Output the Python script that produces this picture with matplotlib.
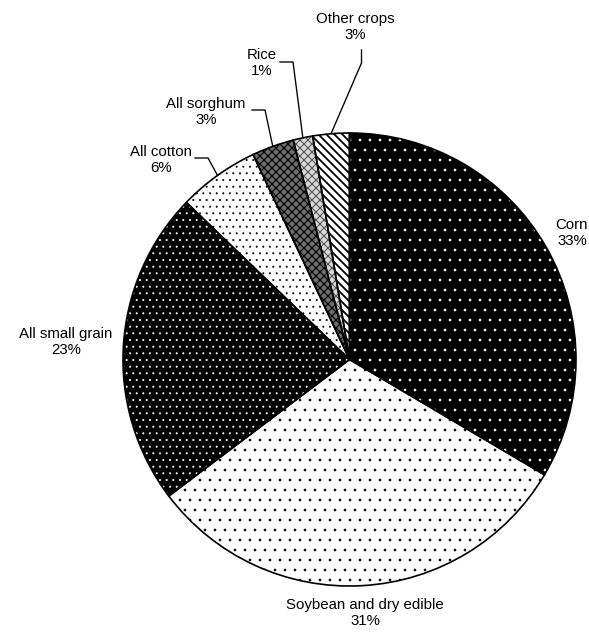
import numpy as np
import matplotlib
matplotlib.use("Agg")
import matplotlib.pyplot as plt

W, H, DPI = 589, 632, 120

crops = ["Corn", "Soybean and dry edible", "All small grain", "All cotton",
         "All sorghum", "Rice", "Other crops"]
shares = [33.5, 31.2, 22.5, 5.8, 3.0, 1.4, 2.6]
pct_labels = ["33%", "31%", "23%", "6%", "3%", "1%", "3%"]

# face colour, hatch colour, hatch pattern, hatch linewidth
styles = [
    ("black", "white", "..", 0.4),
    ("white", "black", "..", 0.4),
    ("black", "white", "...", 0.4),
    ("white", "black", "...", 0.4),
    ("#6e6e6e", "black", "xxxxx", 0.7),
    ("#d8d8d8", "#505050", "xxxxx", 0.6),
    ("white", "black", "\\\\\\\\\\", 1.1),
]

plt.rcParams["font.family"] = ["Liberation Sans", "DejaVu Sans"]
plt.rcParams["font.size"] = 9

fig = plt.figure(figsize=(W / DPI, H / DPI), dpi=DPI)
ax = fig.add_axes([0, 0, 1, 1])

cx, cy, r = 349.5, 359.5, 226.5

# y axis is flipped (pixel coords), so counterclock=True draws clockwise on screen
wedges, _ = ax.pie(shares, startangle=-90, counterclock=True, center=(cx, cy),
                   radius=r, frame=True)
for w, (fc, hc, hatch, hlw) in zip(wedges, styles):
    w.set_facecolor(fc)
    w.set_edgecolor(hc)
    w.set_linewidth(0)
    w.set_hatch(hatch)
    if hasattr(w, "set_hatch_linewidth"):
        w.set_hatch_linewidth(hlw)

# outlines on top
ax.pie(shares, startangle=-90, counterclock=True, center=(cx, cy), radius=r,
       frame=True, wedgeprops=dict(fill=False, edgecolor="black", linewidth=1.0))

ax.set_xlim(0, W)
ax.set_ylim(H, 0)
ax.set_aspect("auto")
ax.axis("off")

# label centres (pixels) and leader elbows for the thin slices
label_pos = [(572, 233), (365, 613), (66, 342), (161, 160),
             (206, 112), (262, 63), (355, 27)]
leaders = {3: [(195, 158), (208, 158)],
           4: [(252, 110), (265, 110)],
           5: [(280, 62), (293, 62)],
           6: [(361.5, 50), (361.5, 63)]}

cum = np.cumsum([0] + shares)
for i, (name, pct) in enumerate(zip(crops, pct_labels)):
    x, y = label_pos[i]
    ax.text(x, y, f"{name}\n{pct}", ha="center", va="center", linespacing=1.15,
            zorder=5)
    if i in leaders:
        mid = np.deg2rad(-90 + 3.6 * (cum[i] + cum[i + 1]) / 2)
        ex, ey = cx + r * np.cos(mid), cy + r * np.sin(mid)
        pts = leaders[i] + [(ex, ey)]
        ax.plot([p[0] for p in pts], [p[1] for p in pts], color="black", lw=0.8)

fig.savefig("out.png", dpi=DPI)
